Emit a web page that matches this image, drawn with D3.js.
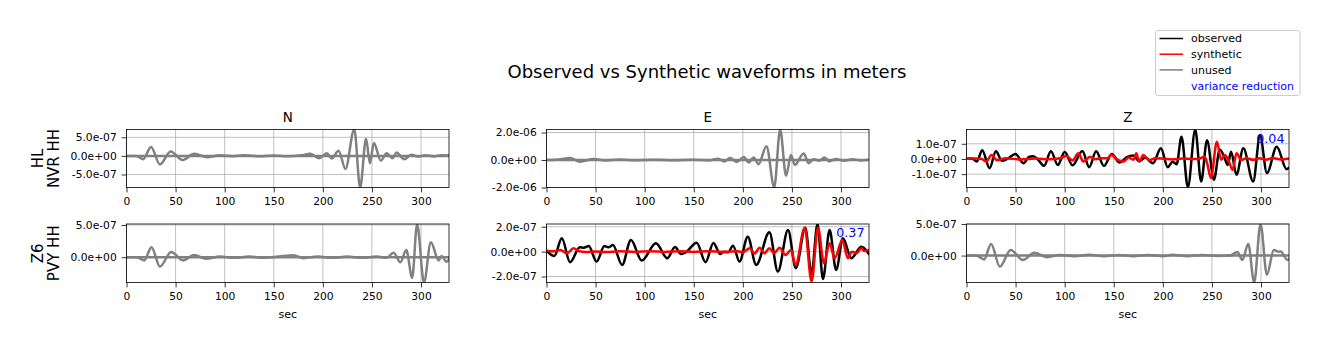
<!DOCTYPE html>
<html>
<head>
<meta charset="utf-8">
<script src="https://cdn.jsdelivr.net/npm/d3@7"></script>
<style>
  html, body { margin: 0; padding: 0; background: #fff; }
  svg { display: block; font-family: 'DejaVu Sans', sans-serif; }
</style>
</head>
<body>
<div id="chart"></div>
<script>
// values, [sec, amplitude]
const UNIT7 = 1e-7, UNIT8 = 1e-8;

const components = ['N', 'E', 'Z'];
const stations = [['HL', 'NVR HH'], ['Z6', 'PVY HH']];
const xTicks = [0, 50, 100, 150, 200, 250, 300];

// NVR HH (units 1e-7 for N,E; 1e-8 for Z)
const nvrN = [[0,0],[10,0],[17,-0.9],[25,2.4],[34,-2.3],[45,1.2],[57,-1.1],[69,0.55],[82,-0.35],[95,0.15],[108,-0.1],
  [120,0.15],[135,-0.1],[150,0.1],[165,-0.1],[178,0.15],[187,0.55],[196,-0.65],[204,0.7],[209,-0.7],[216,1.4],[223,-3.5],
  [232,7.2],[238,-8.5],[244,4.6],[248,-2.0],[252,3.5],[259,-1.3],[265,0.7],[271,-0.65],[275,0.9],[283,-0.9],[290,0.3],
  [297,-0.2],[305,0.2],[313,-0.15],[320,0.15],[329,0.1]];
const nvrE = [[0,0],[10,0.2],[24,1.4],[34,-1.2],[48,0.7],[60,-0.3],[75,0.3],[90,-0.2],[110,0.2],[130,-0.2],[150,0.2],
  [165,-0.3],[175,1.0],[181,-1.0],[187,1.45],[194,-1.45],[201,2.2],[206,-1.9],[211,1.9],[216,-3.1],[224,10.1],[232,-19.8],
  [238,22.2],[244,-11.5],[249,3.6],[253,-3.6],[262,4.8],[267,-2.4],[272,0.5],[278,-0.5],[283,1.9],[288,-1.0],[295,0.7],
  [303,-0.5],[312,0.5],[320,-0.3],[329,0.2]];
const nvrZobs = [[0,0.4],[6,0.2],[10.5,-1.7],[16,5.8],[23.5,-6.1],[30,5.0],[36,-1.2],[42,0.2],[50,3.2],[58,-2.8],[64,1.5],
  [68,1.8],[73,-0.5],[79,-4.5],[86,5.0],[93,-4.0],[100,4.6],[108,-4.2],[118,5.2],[125,-5.4],[132,5.0],[140,-4.6],[148,3.3],
  [156,-2.4],[163,1.0],[170,2.2],[176,-1.5],[182,1.0],[190,-2.8],[198,7.0],[205,-5.4],[210,-1.8],[214,-3.5],[219,14.6],
  [225.5,-18.5],[233,19.3],[239,-14.8],[245,12.4],[252,-13.7],[258,6.3],[263,0.5],[266,-4.0],[269.5,4.8],[275,-10.4],
  [282,7.0],[292,-14.8],[299,15.6],[306,-9.3],[316,8.0],[326,-6.7],[329,-5.5]];
const nvrZsyn = [[0,0.4],[15,0.2],[20,-1.7],[25.5,2.6],[31,-0.8],[40,0.4],[55,-0.3],[70,0.3],[85,-0.2],[95,0.5],[102,1.9],
  [108,-1.0],[114,3.7],[119,-1.7],[126,1.5],[131,-0.2],[137,0.5],[143,0.4],[148,2.6],[153,-0.3],[160,-1.7],[165,1.0],
  [170,-0.5],[173,3.7],[176,-1.7],[180,2.6],[186,-0.8],[192,0.4],[200,0.2],[210,-0.3],[220,0.3],[230,0],[237,0.2],
  [242.5,1.5],[245,-2.6],[249,-12.6],[255,11.3],[259.5,-0.6],[263,2.6],[267,-1.0],[271,-7.2],[275,3.7],[280,-0.6],
  [285,0.5],[292,-0.6],[298,0.4],[305,-0.5],[312,0.6],[320,-0.3],[329,0.4]];

// PVY HH (units 1e-7 for N,Z; 1e-8 for E)
const pvyN = [[0,0],[10,0],[18,-0.5],[25.5,1.55],[34,-1.45],[45.6,0.8],[57.5,-0.5],[69,0.35],[81,-0.25],[95,0.1],[110,-0.1],
  [125,0.1],[140,-0.1],[155,0.1],[170,0.3],[180,-0.15],[195,0.1],[210,-0.1],[225,0.1],[240,-0.1],[255,0.1],[265,-0.1],
  [272,0.7],[279,-0.8],[285,1.1],[291,-3.2],[296,5.1],[303,-3.9],[310,2.3],[318,-0.5],[321,0.2],[326,-0.7],[329,-0.2]];
const pvyEobs = [[0,0.8],[8,-3.5],[15.6,10.7],[24,-8.5],[34,3.5],[38,3.2],[43,4.5],[51,-8.0],[59,4.5],[63,3.5],[67.7,5.3],
  [77,-10.7],[86,9.3],[97,-7.2],[111.5,6.7],[123,-5.3],[131,3.7],[137,-1.9],[142,-0.5],[153,7.2],[162,-8.5],[170,7.0],
  [177,-2.0],[180,0],[185,-0.5],[190,4.8],[196.6,-8.0],[205,12.0],[213.6,-10.7],[227,15.5],[235.7,-16.0],[246,17.3],
  [254,-13.3],[263.6,19.2],[270,-18.0],[276,22.2],[281.6,-21.9],[288.4,17.3],[295,-14.7],[302,10.7],[310.5,-5.3],
  [320.7,4.0],[329,-2.5]];
const pvyEsyn = [[0,0.8],[8,0.3],[14,1.3],[21,-1.3],[27.5,2.7],[33,0.5],[40,-0.3],[50,0.2],[60,-0.3],[75,0.3],[90,-0.2],
  [105,0.3],[120,-0.2],[135,0.3],[150,-0.2],[165,0.3],[180,-0.2],[195,0.3],[200,-0.5],[207,2.7],[212,-1.6],[217,3.2],
  [222,-1.3],[227,2.7],[232,-1.3],[237.4,3.2],[243.5,-2.7],[249,1.3],[253.7,-10.7],[263,19.2],[270,-24.0],[276.5,19.2],
  [282.6,-9.3],[288.4,6.7],[293.5,-5.3],[301.3,9.3],[307,-5.3],[311,0],[315.6,-1.3],[320.7,2.7],[324,0.5],[329,1.3]];
const pvyZ = [[0,0],[10,0],[18,-0.6],[25,1.85],[34,-1.75],[45,0.9],[57.5,-0.7],[69,0.45],[82,-0.25],[95,0.1],[110,-0.1],
  [125,0.15],[140,-0.1],[155,0.1],[170,-0.1],[185,0.1],[200,-0.1],[210,0.15],[225,-0.1],[240,0.1],[255,-0.05],[268,0],
  [276,0.55],[281,-0.7],[287,1.85],[293,-4.25],[299.5,5.0],[306,-3.05],[313,0.9],[318,0.6],[320,0.65],[327,-0.7],[329,-0.4]];

// zero synthetic for unused channels
const unusedSyn = [[0,0],[329,0]];

// axis limits and tick values per panel (row, col)
const yLimits = [
  [[-8.5e-7, 7.1e-7], [-2.0e-6, 2.22e-6], [-1.88e-7, 1.94e-7]],
  [[-3.93e-7, 5.15e-7], [-2.48e-7, 2.22e-7], [-4.26e-7, 5.0e-7]]
];
const yTicks = [
  [[-5e-7, 0, 5e-7], [-2e-6, 0, 2e-6], [-1e-7, 0, 1e-7]],
  [[0, 5e-7], [-2e-7, 0, 2e-7], [0, 5e-7]]
];
const varianceReduction = [[null, null, '0.04'], [null, '0.37', null]];

const scaleBy = (arr, u) => arr.map(([t, v]) => [t, v * u]);

const panels = [
  [
    { used: false, obs: scaleBy(nvrN, UNIT7), syn: unusedSyn },
    { used: false, obs: scaleBy(nvrE, UNIT7), syn: unusedSyn },
    { used: true,  obs: scaleBy(nvrZobs, UNIT8), syn: scaleBy(nvrZsyn, UNIT8) }
  ],
  [
    { used: false, obs: scaleBy(pvyN, UNIT7), syn: unusedSyn },
    { used: true,  obs: scaleBy(pvyEobs, UNIT8), syn: scaleBy(pvyEsyn, UNIT8) },
    { used: false, obs: scaleBy(pvyZ, UNIT7), syn: unusedSyn }
  ]
];

const colors = { observed: '#000000', synthetic: '#ff0000', unused: '#808080', vr: '#0000ff', grid: '#b0b0b0' };

const totalW = 1329, totalH = 351;
const colLeft = [126.5, 546.5, 966.5];
const plotW = 322.5;
const rowTop = [129.5, 224];
const plotH = [58, 58.5];

function sci(v) {
  const [m, e] = v.toExponential(1).split('e');
  const n = parseInt(e, 10);
  return m + 'e' + (n < 0 ? '-' : '+') + String(Math.abs(n)).padStart(2, '0');
}

const svg = d3.select('#chart').append('svg')
  .attr('width', totalW).attr('height', totalH);

svg.append('text')
  .attr('x', 707).attr('y', 78)
  .attr('text-anchor', 'middle')
  .attr('font-size', '18px')
  .text('Observed vs Synthetic waveforms in meters');

const x = d3.scaleLinear().domain([0, 328.5]).range([0, plotW]);

panels.forEach((row, r) => {
  row.forEach((p, c) => {
    const H = plotH[r];
    const y = d3.scaleLinear().domain(yLimits[r][c]).range([H, 0]);
    const g = svg.append('g').attr('transform', `translate(${colLeft[c]},${rowTop[r]})`);
    const clipId = `clip-${r}-${c}`;
    g.append('clipPath').attr('id', clipId)
      .append('rect').attr('width', plotW).attr('height', H);

    // grid
    g.append('g').selectAll('line').data(xTicks).enter().append('line')
      .attr('x1', d => x(d)).attr('x2', d => x(d)).attr('y1', 0).attr('y2', H)
      .attr('stroke', colors.grid).attr('stroke-width', 0.8);
    g.append('g').selectAll('line').data(yTicks[r][c]).enter().append('line')
      .attr('x1', 0).attr('x2', plotW).attr('y1', d => y(d)).attr('y2', d => y(d))
      .attr('stroke', colors.grid).attr('stroke-width', 0.8);

    const line = d3.line().x(d => x(d[0])).y(d => y(d[1])).curve(d3.curveMonotoneX);
    const lines = g.append('g').attr('clip-path', `url(#${clipId})`);
    lines.append('path').datum(p.obs)
      .attr('d', line).attr('fill', 'none')
      .attr('stroke', p.used ? colors.observed : colors.unused)
      .attr('stroke-width', 2.5).attr('stroke-linejoin', 'round');
    lines.append('path').datum(p.syn)
      .attr('d', line).attr('fill', 'none')
      .attr('stroke', p.used ? colors.synthetic : colors.unused)
      .attr('stroke-width', 2.5).attr('stroke-linejoin', 'round');

    // axes
    const xAxis = g.append('g').attr('transform', `translate(0,${H})`)
      .call(d3.axisBottom(x).tickValues(xTicks).tickFormat(d3.format('d')).tickSize(4.9).tickPadding(4.9));
    const yAxis = g.append('g')
      .call(d3.axisLeft(y).tickValues(yTicks[r][c]).tickFormat(sci).tickSize(4.9).tickPadding(4.9));
    [xAxis, yAxis].forEach(a => {
      a.select('.domain').remove();
      a.selectAll('.tick line').attr('stroke', '#000').attr('stroke-width', 0.8);
      a.selectAll('.tick text').attr('fill', '#000').attr('font-size', '10.7px')
        .attr('font-family', "'DejaVu Sans', sans-serif");
    });

    g.append('rect').attr('width', plotW).attr('height', H)
      .attr('fill', 'none').attr('stroke', '#000').attr('stroke-width', 0.8);

    if (varianceReduction[r][c]) {
      g.append('text')
        .attr('x', plotW - 4.5).attr('y', 13)
        .attr('text-anchor', 'end')
        .attr('fill', colors.vr).attr('font-size', '12.7px')
        .text(varianceReduction[r][c]);
    }

    if (r === 0) {
      g.append('text')
        .attr('x', plotW / 2).attr('y', -8)
        .attr('text-anchor', 'middle').attr('font-size', '13.5px')
        .text(components[c]);
    }
    if (r === 1) {
      g.append('text')
        .attr('x', plotW / 2).attr('y', H + 35)
        .attr('text-anchor', 'middle').attr('font-size', '11px')
        .text('sec');
    }
    if (c === 0) {
      stations[r].forEach((label, i) => {
        g.append('text')
          .attr('transform', `translate(${-88.5 + i * 15.5},${H / 2}) rotate(-90)`)
          .attr('text-anchor', 'middle').attr('dy', '0.36em')
          .attr('font-size', '15px')
          .text(label);
      });
    }
  });
});

// legend
const legendItems = [
  { label: 'observed', color: colors.observed, line: true },
  { label: 'synthetic', color: colors.synthetic, line: true },
  { label: 'unused', color: colors.unused, line: true },
  { label: 'variance reduction', color: colors.vr, line: false }
];
const legend = svg.append('g').attr('transform', 'translate(1155.5,30.5)');
legend.append('rect')
  .attr('width', 144.5).attr('height', 65).attr('rx', 2.5)
  .attr('fill', '#fff').attr('fill-opacity', 0.8)
  .attr('stroke', '#cccccc').attr('stroke-width', 1);
legendItems.forEach((d, i) => {
  const yy = 8 + i * 15.7;
  if (d.line) {
    legend.append('line').attr('x1', 4).attr('x2', 27.5).attr('y1', yy).attr('y2', yy)
      .attr('stroke', d.color).attr('stroke-width', 1.5);
  }
  legend.append('text').attr('x', 35.5).attr('y', yy).attr('dy', '0.36em')
    .attr('font-size', '11px').attr('fill', d.line ? '#000' : d.color)
    .text(d.label);
});
</script>
</body>
</html>
